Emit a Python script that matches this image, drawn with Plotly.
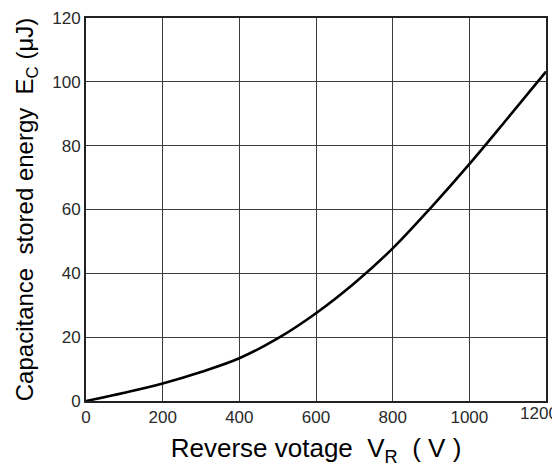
import plotly.graph_objects as go

voltage = [0, 100, 200, 300, 400, 500, 600, 700, 800, 900, 1000, 1100, 1200]
energy = [0, 2.6, 5.5, 9.1, 13.4, 19.6, 27.5, 36.9, 47.8, 60.6, 74.2, 88.6, 103.2]

x_ticks = [0, 200, 400, 600, 800, 1000]
x_last_tick = [1200]
y_ticks = [0, 20, 40, 60, 80, 100, 120]

FONT = "Liberation Sans, Arial"

fig = go.Figure()
fig.add_trace(go.Scatter(x=voltage, y=energy, mode="lines",
                         line=dict(color="black", width=2.6, shape="spline", smoothing=1.0),
                         showlegend=False, hoverinfo="skip", cliponaxis=False))
fig.add_trace(go.Scatter(x=[], y=[], xaxis="x2", showlegend=False, hoverinfo="skip"))

tickfont = dict(family=FONT, size=17, color="#2a2a2a")
axis_common = dict(showgrid=True, gridcolor="#3c3c3c", gridwidth=1.4,
                   showline=True, linecolor="#222", linewidth=1.8, mirror=True,
                   zeroline=False, ticks="", automargin=False, ticklabeloverflow="allow",
                   tickfont=tickfont)

fig.update_layout(
    xaxis=dict(range=[0, 1200], tickvals=x_ticks, **axis_common,
               title=dict(text="Reverse votage  V<sub>R</sub>  ( V )",
                          font=dict(family=FONT, size=26, color="black"), standoff=13)),
    xaxis2=dict(range=[0, 1200], overlaying="x", side="bottom", tickvals=x_last_tick,
                showgrid=False, showline=False, zeroline=False, ticks="", automargin=False,
                ticklabeloverflow="allow", ticklabelshift=-7, tickfont=tickfont),
    yaxis=dict(range=[0, 120], tickvals=y_ticks, **axis_common,
               title=dict(text="Capacitance  stored energy  E<sub>C</sub> (μJ)",
                          font=dict(family=FONT, size=24, color="black"), standoff=12)),
    width=560, height=467, margin=dict(l=78, r=22, t=10, b=74),
    plot_bgcolor="white", paper_bgcolor="white")

fig.write_html("out.html")
